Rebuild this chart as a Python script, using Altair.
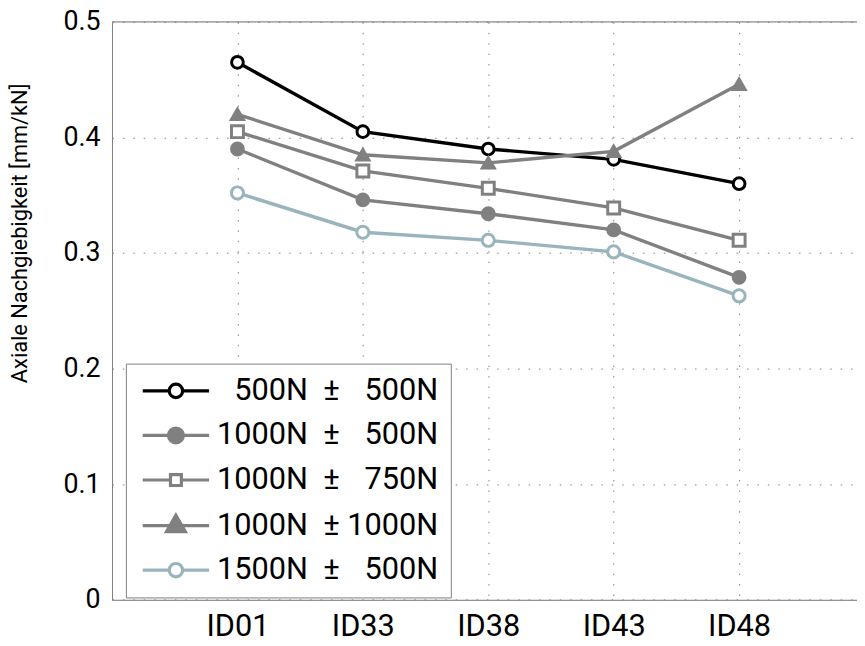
import altair as alt
import pandas as pd

# ---------------- data ----------------
categories = ["ID01", "ID33", "ID38", "ID43", "ID48"]
series = [
    "\u2060\u2007500N\u00a0\u00a0±\u00a0\u2007500N",
    "1000N\u00a0\u00a0±\u00a0\u2007500N",
    "1000N\u00a0\u00a0±\u00a0\u2007750N",
    "1000N\u00a0\u00a0±\u00a01000N",
    "1500N\u00a0\u00a0±\u00a0\u2007500N",
]
v_500_500 = [0.465, 0.405, 0.390, 0.381, 0.360]
v_1000_500 = [0.390, 0.346, 0.334, 0.320, 0.279]
v_1000_750 = [0.405, 0.371, 0.356, 0.339, 0.311]
v_1000_1000 = [0.420, 0.385, 0.378, 0.388, 0.446]
v_1500_500 = [0.352, 0.318, 0.311, 0.301, 0.263]
y_ticks = [0, 0.1, 0.2, 0.3, 0.4, 0.5]
y_title = "Axiale Nachgiebigkeit [mm/kN]"

all_values = [v_500_500, v_1000_500, v_1000_750, v_1000_1000, v_1500_500]

# ---------------- styles ----------------
line_colors = ["#000000", "#808080", "#808080", "#808080", "#99b4bd"]
fill_colors = ["#ffffff", "#808080", "#ffffff", "#808080", "#ffffff"]
point_shapes = ["circle", "circle", "square", "triangle-up", "circle"]
point_sizes = [140, 150, 110, 340, 140]
point_sw = [3, 3, 2.5, 1, 3]
legend_shapes = [
    "M-6.7,0L-1.35,0M1.35,0L6.7,0M-1.35,0A1.35,1.35,0,1,0,1.35,0A1.35,1.35,0,1,0,-1.35,0Z",
    "M-6.7,0L-1.5,0M1.5,0L6.7,0M-1.5,0A1.5,1.5,0,1,0,1.5,0A1.5,1.5,0,1,0,-1.5,0Z",
    "M-6.7,0L-1.1,0M1.1,0L6.7,0M-1.1,-1.1L1.1,-1.1L1.1,1.1L-1.1,1.1Z",
    "M-6.7,0L6.7,0M0,-2.1L1.9,1.2L-1.9,1.2Z",
    "M-6.7,0L-1.35,0M1.35,0L6.7,0M-1.35,0A1.35,1.35,0,1,0,1.35,0A1.35,1.35,0,1,0,-1.35,0Z",
]

rows = []
for s, vals in zip(series, all_values):
    for i, (c, v) in enumerate(zip(categories, vals)):
        rows.append({"series": s, "cat": c, "pos": i + 1, "value": v})
df = pd.DataFrame(rows)

FONT = "Roboto"
W, H = 752, 583.4
x_max = 5.94

label_expr = "[" + ",".join(f"'{c}'" for c in categories) + "][datum.value - 1]"

x_enc = alt.X(
    "pos:Q",
    scale=alt.Scale(domain=[0, x_max], nice=False, zero=False),
    axis=alt.Axis(
        values=list(range(1, len(categories) + 1)),
        labelExpr=label_expr,
        title=None,
        ticks=False,
        tickSize=0,
        labelPadding=12,
        labelFont=FONT,
        labelFontSize=31,
        labelColor="#000000",
        domainColor="#808080",
        domainWidth=1,
        grid=True,
        gridColor="#808080",
        gridDash=[1.5, 9],
        gridWidth=1,
    ),
)
y_enc = alt.Y(
    "value:Q",
    scale=alt.Scale(domain=[y_ticks[0], y_ticks[-1]], nice=False),
    axis=alt.Axis(
        values=y_ticks,
        format=".1~f",
        title=y_title,
        titleFont=FONT,
        titleFontSize=22,
        titleFontWeight="normal",
        titleColor="#000000",
        titleAngle=270,
        titleAlign="center",
        titleBaseline="alphabetic",
        titleX=-86,
        titleY=213,
        ticks=False,
        tickSize=0,
        labelPadding=12,
        labelFont=FONT,
        labelFontSize=27,
        labelColor="#000000",
        domainColor="#808080",
        domainWidth=1,
        grid=True,
        gridColor="#808080",
        gridDash=[1.5, 9],
        gridWidth=1,
    ),
)

base = alt.Chart(df)

lines = base.mark_line(strokeWidth=3.4).encode(
    x=x_enc,
    y=y_enc,
    stroke=alt.Stroke("series:N", scale=alt.Scale(domain=series, range=line_colors), legend=None),
    detail="series:N",
)

points = base.mark_point(filled=True, opacity=1).encode(
    x="pos:Q",
    y="value:Q",
    shape=alt.Shape("series:N", scale=alt.Scale(domain=series, range=point_shapes), legend=None),
    fill=alt.Fill("series:N", scale=alt.Scale(domain=series, range=fill_colors), legend=None),
    stroke=alt.Stroke("series:N", scale=alt.Scale(domain=series, range=line_colors), legend=None),
    size=alt.Size("series:N", scale=alt.Scale(domain=series, range=point_sizes), legend=None),
    strokeWidth=alt.StrokeWidth("series:N", scale=alt.Scale(domain=series, range=point_sw), legend=None),
)

leg = alt.Legend(
    title=None,
    orient="none",
    legendX=14,
    legendY=345,
    labelFont=FONT,
    labelFontSize=31,
    labelColor="#000000",
    labelLimit=500,
    labelOffset=26,
    symbolOffset=23,
    symbolSize=100,
    symbolStrokeWidth=3.2,
    symbolOpacity=1,
    rowPadding=13,
    padding=12,
    strokeColor="#808080",
    fillColor="#ffffff",
    cornerRadius=0,
)

legend_layer = base.mark_point(filled=True, opacity=1).encode(
    x="pos:Q",
    y="value:Q",
    shape=alt.Shape("series:N", scale=alt.Scale(domain=series, range=legend_shapes), legend=leg),
    fill=alt.Fill("series:N", scale=alt.Scale(domain=series, range=fill_colors), legend=leg),
    stroke=alt.Stroke("series:N", scale=alt.Scale(domain=series, range=line_colors), legend=leg),
).transform_filter("false")

frame_top = alt.Chart(pd.DataFrame({"top": [y_ticks[-1]]})).mark_rule(
    color="#808080", strokeWidth=1
).encode(y="top:Q")

chart = (
    alt.layer(frame_top, lines, points, legend_layer)
    .resolve_scale(shape="independent", fill="independent", stroke="independent")
    .properties(
        width=W,
        height=H,
        autosize=alt.AutoSizeParams(type="none"),
        padding={"left": 105, "top": 11, "right": 0, "bottom": 40},
    )
    .configure_view(stroke=None)
    .configure(background="#ffffff")
)

chart.save("out.html", embed_options={"renderer": "svg", "actions": False})
